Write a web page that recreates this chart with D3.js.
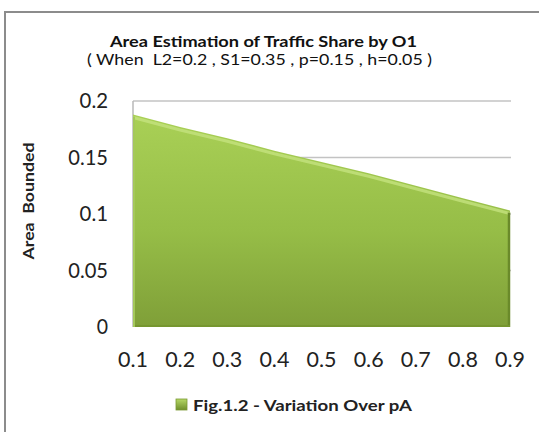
<!DOCTYPE html>
<html><head><meta charset="utf-8">
<script src="https://cdn.jsdelivr.net/npm/d3@7"></script>
<style>html,body{margin:0;padding:0;background:#fff;overflow:hidden}</style>
</head><body>
<script>
const categories = ["0.1","0.2","0.3","0.4","0.5","0.6","0.7","0.8","0.9"];
const areaValues = [0.188,0.177,0.167,0.156,0.146,0.136,0.125,0.114,0.103];
const yTicks = [0,0.05,0.1,0.15,0.2];
const yTickLabels = ["0","0.05","0.1","0.15","0.2"];
const titleText = "Area Estimation of Traffic Share by O1";
const subtitleText = "( When  L2=0.2 , S1=0.35 , p=0.15 , h=0.05 )";
const yAxisTitle = "Area  Bounded";
const legendLabel = "Fig.1.2 - Variation Over pA";

const W=539,H=432;
const svg=d3.select("body").append("svg").attr("width",W).attr("height",H);
const font="Lato, 'Open Sans', sans-serif";

// outer border
svg.append("rect").attr("x",5).attr("y",12).attr("width",560).attr("height",460)
  .attr("fill","#fff").attr("stroke","#8c8c8c").attr("stroke-width",2);

const x=d3.scalePoint().domain(categories).range([133,510]).padding(0);
const y=d3.scaleLinear().domain([0,0.2]).range([327,101]);

const defs=svg.append("defs");
const g1=defs.append("linearGradient").attr("id","ag").attr("x1",0).attr("y1",0).attr("x2",0).attr("y2",1);
g1.append("stop").attr("offset","0%").attr("stop-color","#a9d056");
g1.append("stop").attr("offset","55%").attr("stop-color","#96bd47");
g1.append("stop").attr("offset","100%").attr("stop-color","#7f9f38");
const g2=defs.append("linearGradient").attr("id","lg").attr("x1",0).attr("y1",0).attr("x2",0).attr("y2",1);
g2.append("stop").attr("offset","0%").attr("stop-color","#b5d866");
g2.append("stop").attr("offset","100%").attr("stop-color","#6f8f2c");

// gridlines
svg.append("g").selectAll("line").data(yTicks.filter(d=>d>0)).join("line")
  .attr("x1",133).attr("x2",511).attr("y1",d=>y(d)).attr("y2",d=>y(d))
  .attr("stroke","#c3c3c3").attr("stroke-width",1.5);
svg.append("line").attr("x1",133).attr("x2",133).attr("y1",y(0.2)).attr("y2",y(0))
  .attr("stroke","#b8b8b8").attr("stroke-width",1.5);

const data=categories.map((c,i)=>({c,v:areaValues[i]}));
const area=d3.area().x(d=>x(d.c)).y0(y(0)).y1(d=>y(d.v));
svg.append("path").datum(data).attr("d",area).attr("fill","url(#ag)");
const line=d3.line().x(d=>x(d.c)).y(d=>y(d.v)+3);
svg.append("path").datum(data).attr("d",line).attr("fill","none")
  .attr("stroke","#c4e27e").attr("stroke-width",3).attr("opacity",0.8);
svg.append("line").attr("x1",x("0.9")-1).attr("x2",x("0.9")-1)
  .attr("y1",y(areaValues[8])+2).attr("y2",y(0))
  .attr("stroke","#6a8a2a").attr("stroke-width",2.5);
svg.append("line").attr("x1",x("0.1")).attr("x2",x("0.9"))
  .attr("y1",y(0)-1).attr("y2",y(0)-1)
  .attr("stroke","#76962f").attr("stroke-width",2);
svg.append("line").attr("x1",x("0.1")+1).attr("x2",x("0.1")+1)
  .attr("y1",y(areaValues[0])+2).attr("y2",y(0))
  .attr("stroke","#a4c85a").attr("stroke-width",2);

// y ticks
svg.append("g").selectAll("text").data(yTicks).join("text")
  .attr("x",108).attr("y",d=>y(d)).attr("dy","0.35em").attr("text-anchor","end")
  .attr("font-family",font).attr("font-size",21).attr("fill","#222")
  .attr("textLength",(d,i)=>yTickLabels[i].length*11.3-(yTickLabels[i].length>1?5.5:0))
  .attr("lengthAdjust","spacingAndGlyphs")
  .text((d,i)=>yTickLabels[i]);
// x ticks
svg.append("g").selectAll("text").data(categories).join("text")
  .attr("x",d=>x(d)).attr("y",367).attr("text-anchor","middle")
  .attr("font-family",font).attr("font-size",21).attr("fill","#222")
  .attr("textLength",30).attr("lengthAdjust","spacingAndGlyphs")
  .text(d=>d);

// titles
svg.append("text").attr("x",263.5).attr("y",47).attr("text-anchor","middle")
  .attr("font-family",font).attr("font-weight","bold").attr("font-size",16).attr("fill","#111")
  .attr("textLength",307).attr("lengthAdjust","spacingAndGlyphs")
  .text(titleText);
svg.append("text").attr("x",259.5).attr("y",65).attr("text-anchor","middle")
  .attr("font-family",font).attr("font-size",16).attr("fill","#111")
  .style("white-space","pre")
  .attr("textLength",345).attr("lengthAdjust","spacingAndGlyphs")
  .text(subtitleText);
svg.append("text").attr("transform","translate(34,201) rotate(-90)").attr("text-anchor","middle")
  .attr("font-family",font).attr("font-weight","bold").attr("font-size",16).attr("fill","#222")
  .style("white-space","pre")
  .attr("textLength",117).attr("lengthAdjust","spacingAndGlyphs")
  .text(yAxisTitle);

// legend
svg.append("rect").attr("x",176).attr("y",399).attr("width",11).attr("height",11)
  .attr("fill","url(#lg)").attr("stroke","#7a9a34").attr("stroke-width",0.8);
svg.append("text").attr("x",193).attr("y",411)
  .attr("font-family",font).attr("font-weight","bold").attr("font-size",16).attr("fill","#222")
  .attr("textLength",219).attr("lengthAdjust","spacingAndGlyphs")
  .text(legendLabel);
</script>
</body></html>
